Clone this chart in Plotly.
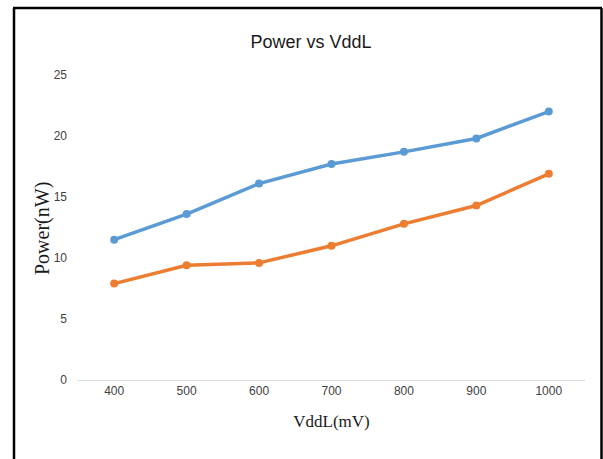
import plotly.graph_objects as go

vddl = ["400", "500", "600", "700", "800", "900", "1000"]
power_blue = [11.5, 13.6, 16.1, 17.7, 18.7, 19.8, 22.0]
power_orange = [7.9, 9.4, 9.6, 11.0, 12.8, 14.3, 16.9]
y_ticks = [0, 5, 10, 15, 20, 25]

fig = go.Figure()
fig.add_trace(go.Scatter(x=vddl, y=power_blue, mode="lines+markers",
                         line=dict(color="#5B9BD5", width=3.5),
                         marker=dict(size=8, color="#5B9BD5")))
fig.add_trace(go.Scatter(x=vddl, y=power_orange, mode="lines+markers",
                         line=dict(color="#ED7D31", width=3.5),
                         marker=dict(size=8, color="#ED7D31")))

L, R, T, B = 78, 18, 75, 79
W, H = 603, 459
pw, ph = W - L - R, H - T - B

def px(x):
    return (x - L) / pw

def py(y):
    return (H - B - y) / ph

sans = "Liberation Sans, Arial, sans-serif"
serif = "Liberation Serif, Times New Roman, serif"

fig.update_layout(
    width=W, height=H,
    margin=dict(l=L, r=R, t=T, b=B),
    paper_bgcolor="white", plot_bgcolor="white",
    showlegend=False,
    title=dict(text="Power vs VddL", xref="container", x=311 / W, xanchor="center",
               yref="container", y=1 - 42 / H, yanchor="middle",
               font=dict(family=sans, size=18, color="#1a1a1a")),
    xaxis=dict(type="category", range=[-0.5, 6.5], showgrid=False,
               showline=True, linecolor="#D9D9D9", linewidth=1,
               ticks="", tickfont=dict(family=sans, size=12, color="#404040"),
               title=dict(text="VddL(mV)", standoff=17,
                          font=dict(family=serif, size=17, color="#1a1a1a"))),
    yaxis=dict(range=[0, 25], tickvals=y_ticks, showgrid=False, zeroline=False,
               showline=False, ticks="", ticklabelstandoff=10,
               tickfont=dict(family=sans, size=12, color="#404040")),
    annotations=[
        dict(text="Power(nW)", xref="paper", yref="paper", x=px(43), y=py(229),
             xanchor="center", yanchor="middle", textangle=-90, showarrow=False,
             font=dict(family=serif, size=20, color="#1a1a1a")),
    ],
    shapes=[
        dict(type="line", xref="paper", yref="paper", x0=px(14), x1=px(14), y0=py(8), y1=py(470),
             line=dict(color="black", width=2.5)),
        dict(type="line", xref="paper", yref="paper", x0=px(13), x1=px(602), y0=py(8), y1=py(8),
             line=dict(color="black", width=2.5)),
        dict(type="line", xref="paper", yref="paper", x0=px(601.5), x1=px(601.5), y0=py(8), y1=py(470),
             line=dict(color="black", width=2.5)),
    ],
)

fig.write_html("out.html")
